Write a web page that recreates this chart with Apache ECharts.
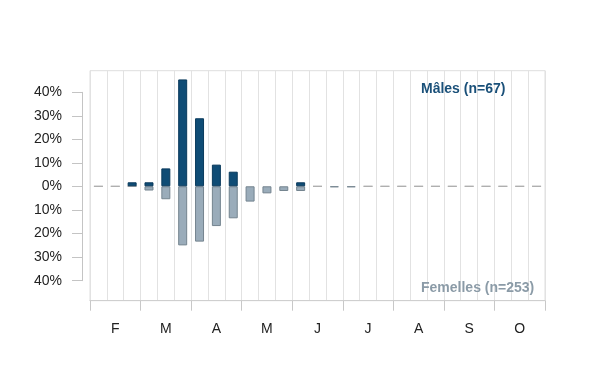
<!DOCTYPE html>
<html><head><meta charset="utf-8">
<script src="https://cdn.jsdelivr.net/npm/echarts@6/dist/echarts.min.js"></script>
<style>html,body{margin:0;padding:0;background:#fff}#c{width:600px;height:390px}</style>
</head><body><div id="c"></div>
<script>
const months = ['F','M','A','M','J','J','A','S','O'];
const decades = ['1','2','3'];
// percent per 10-day period (decade), Feb..Oct
const males   = [0,0,1.7,1.7,7.6,45.4,28.9,9.2,6.2,0,0,0,1.7,0,0,0,0,0,0,0,0,0,0,0,0,0,0];
const females = [0,0,0,1.8,5.5,25.1,23.5,16.9,13.6,6.5,3.0,2.0,2.0,0,0.4,0.4,0,0,0,0,0,0,0,0,0,0,0];
const maleLabel = 'Mâles (n=67)';
const femaleLabel = 'Femelles (n=253)';

const cats = months.flatMap((m, i) => decades.map(d => m + i + '-' + d));
const monthCats = months.map((m, i) => m + '|' + i);
const FONT = '"Liberation Sans", Arial, sans-serif';
const chart = echarts.init(document.getElementById('c'), null, {renderer:'canvas'});
chart.setOption({
  animation: false,
  backgroundColor: '#fff',
  grid: [
    {left: 90, right: 55, top: 70.7, bottom: 89.3, show: true, borderColor: '#dedede', borderWidth: 1},
    {left: 82, width: 10, top: 92.3, bottom: 109.3}
  ],
  xAxis: [
    {type: 'category', gridIndex: 0, data: cats, boundaryGap: true, position: 'bottom',
     axisLine: {show: false, onZero: false}, axisTick: {show: false}, axisLabel: {show: false},
     splitLine: {show: true, interval: 0, lineStyle: {color: '#e2e2e2'}}},
    {type: 'value', gridIndex: 1, show: false},
    {type: 'category', gridIndex: 0, data: monthCats, boundaryGap: true, position: 'bottom',
     axisLine: {show: true, onZero: false, lineStyle: {color: '#cfcfcf'}},
     axisTick: {show: true, interval: 0, length: 10, lineStyle: {color: '#c8c8c8'}},
     axisLabel: {interval: 0, formatter: (v) => v.split('|')[0], margin: 21,
                 fontSize: 14, color: '#222', fontFamily: FONT},
     splitLine: {show: false}}
  ],
  yAxis: [
    {type: 'value', gridIndex: 0, min: -48.6, max: 49.1, show: false, splitLine: {show: false}},
    {type: 'value', gridIndex: 1, min: -40, max: 40, interval: 10,
     axisLine: {show: true, lineStyle: {color: '#c4c4c4'}},
     axisTick: {show: true, length: 10, lineStyle: {color: '#c4c4c4'}},
     axisLabel: {margin: 20, fontSize: 14, color: '#222', fontFamily: FONT,
                 formatter: (v) => Math.abs(v) + '%'},
     splitLine: {show: false}}
  ],
  series: [
    {type: 'bar', xAxisIndex: 0, yAxisIndex: 0, barWidth: 9,
     data: females.map(v => v === 0 ? {value: 0, itemStyle: {borderColor: '#ababab'}} : -v),
     itemStyle: {color: '#9aacba', borderColor: '#74848f', borderWidth: 1}},
    {type: 'bar', xAxisIndex: 0, yAxisIndex: 0, barWidth: 9, barGap: '-100%',
     data: males.map(v => v === 0 ? '-' : v),
     itemStyle: {color: '#0f4c75', borderColor: '#0a3a5c', borderWidth: 1}}
  ],
  graphic: [
    {type: 'text', z: 100, left: 421, top: 82, style: {text: maleLabel, font: 'bold 14px ' + FONT, fill: '#1a5079'}},
    {type: 'text', z: 100, left: 421, top: 281, style: {text: femaleLabel, font: 'bold 14px ' + FONT, fill: '#8b9ba7'}}
  ]
});
</script></body></html>
